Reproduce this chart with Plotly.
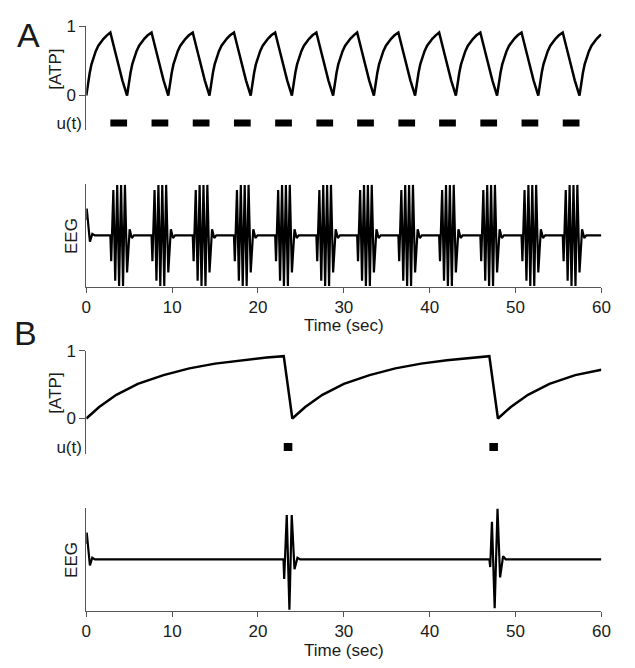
import plotly.graph_objects as go

# Page is 635x668; the figure is drawn at 619x652 so that it fits inside the
# default 8px body margin without any scrolling.
PAGE_MARGIN = 8
W, H = 635 - 2 * PAGE_MARGIN, 668 - 2 * PAGE_MARGIN

# ---------------- data ----------------
time_ticks = [0, 10, 20, 30, 40, 50, 60]
t_end = 60.0

# Panel A: ATP sawtooth, stimulus bars, EEG bursts
atp_a_peaks = [2.8, 7.6, 12.4, 17.2, 22.0, 26.8, 31.55, 36.35, 41.1, 45.9, 50.7, 55.5]
atp_a_mins = [4.75, 9.55, 14.35, 19.15, 23.95, 28.75, 33.5, 38.3, 43.05, 47.85, 52.65, 57.45]
atp_a_rise_dt = [0, 0.1, 0.25, 0.4, 0.6, 0.8, 1.1, 1.4, 1.7, 2.0, 2.4]
atp_a_rise_val = [0, 0.1, 0.22, 0.33, 0.45, 0.54, 0.64, 0.72, 0.78, 0.82, 0.87]
atp_a_peak_val = 0.91
atp_a_fall_dt = [0.65, 1.4]
atp_a_fall_val = [0.59, 0.22]
atp_a_end_val = 0.88

eeg_onset_t = [0, 0.05, 0.42, 0.7, 1.0]
eeg_onset_v = [0.3, 0.52, -0.12, 0.03, 0.0]
eeg_a_burst_starts = atp_a_peaks
eeg_a_burst_dt = [0, 0.1, 0.35, 0.57, 0.8, 1.02, 1.25, 1.48, 1.7, 1.95, 2.25, 2.5, 2.75]
eeg_a_burst_val = [0, -0.5, 0.88, -0.88, 0.98, -0.98, 0.98, -0.98, 0.98, -0.72, 0.12, -0.05, 0]

# Panel B: slow ATP recovery, two stimuli, two short EEG bursts
atp_b_peaks = [23.0, 46.95]
atp_b_mins = [24.0, 47.95]
atp_b_rise_dt = [0, 1.5, 3.5, 6, 9, 12, 15, 18, 21]
atp_b_rise_val = [0, 0.17, 0.35, 0.51, 0.64, 0.74, 0.81, 0.86, 0.9]
atp_b_peak_val = 0.92
atp_b_end_val = 0.72

eeg_b_burst1_t = [22.97, 23.05, 23.35, 23.66, 23.93, 24.25, 24.6, 24.9]
eeg_b_burst1_v = [0, -0.38, 0.86, -0.98, 0.86, -0.19, 0.03, 0]
eeg_b_burst2_t = [46.95, 47.05, 47.25, 47.57, 47.9, 48.2, 48.55, 48.85]
eeg_b_burst2_v = [0, -0.15, 0.73, -0.95, 0.98, -0.35, 0.06, 0]


# ---------------- series assembly ----------------
def build_atp(peaks, mins, rise_dt, rise_val, peak_val, fall_dt, fall_val, end_val):
    t, v = [], []
    start = 0.0
    for p, m in zip(peaks, mins):
        for dt, val in zip(rise_dt, rise_val):
            if start + dt < p - 0.05:
                t.append(start + dt)
                v.append(val)
        t.append(p)
        v.append(peak_val)
        for dt, val in zip(fall_dt, fall_val):
            t.append(p + dt)
            v.append(val)
        t.append(m)
        v.append(0.0)
        start = m
    for dt, val in zip(rise_dt, rise_val):
        if start + dt < t_end - 0.05:
            t.append(start + dt)
            v.append(val)
    t.append(t_end)
    v.append(end_val)
    return t, v


def build_bars(peaks, mins):
    x, y = [], []
    for p, m in zip(peaks, mins):
        x += [p, m, None]
        y += [1, 1, None]
    return x, y


atp_a_t, atp_a_v = build_atp(atp_a_peaks, atp_a_mins, atp_a_rise_dt, atp_a_rise_val,
                             atp_a_peak_val, atp_a_fall_dt, atp_a_fall_val, atp_a_end_val)
atp_b_t, atp_b_v = build_atp(atp_b_peaks, atp_b_mins, atp_b_rise_dt, atp_b_rise_val,
                             atp_b_peak_val, [], [], atp_b_end_val)
u_a_x, u_a_y = build_bars(atp_a_peaks, atp_a_mins)
u_b_x, u_b_y = build_bars(atp_b_peaks, atp_b_mins)

eeg_a_t = list(eeg_onset_t)
eeg_a_v = list(eeg_onset_v)
for s in eeg_a_burst_starts:
    eeg_a_t += [s + d for d in eeg_a_burst_dt]
    eeg_a_v += eeg_a_burst_val
eeg_a_t.append(t_end)
eeg_a_v.append(0)

eeg_b_t = list(eeg_onset_t) + eeg_b_burst1_t + eeg_b_burst2_t + [t_end]
eeg_b_v = list(eeg_onset_v) + eeg_b_burst1_v + eeg_b_burst2_v + [0]

# ---------------- figure ----------------
FONT = "Liberation Sans, Arial, sans-serif"
TXT = "#1a1a1a"
AX = "#555555"
LINE = "#000000"


# page-pixel -> paper coordinates
def px(x):
    return (x - PAGE_MARGIN) / W


def py(y):
    return 1 - (y - PAGE_MARGIN) / H


def ydom(top_px, bot_px):
    return [py(bot_px), py(top_px)]


xdom = [px(83), px(610)]

fig = go.Figure()
fig.add_trace(go.Scatter(x=atp_a_t, y=atp_a_v, xaxis="x", yaxis="y", mode="lines",
                         line=dict(color=LINE, width=2.5)))
fig.add_trace(go.Scatter(x=u_a_x, y=u_a_y, xaxis="x", yaxis="y2", mode="lines",
                         line=dict(color=LINE, width=7)))
fig.add_trace(go.Scatter(x=eeg_a_t, y=eeg_a_v, xaxis="x", yaxis="y3", mode="lines",
                         line=dict(color=LINE, width=2.2)))
fig.add_trace(go.Scatter(x=atp_b_t, y=atp_b_v, xaxis="x2", yaxis="y4", mode="lines",
                         line=dict(color=LINE, width=2.5)))
fig.add_trace(go.Scatter(x=u_b_x, y=u_b_y, xaxis="x2", yaxis="y5", mode="lines",
                         line=dict(color=LINE, width=8)))
fig.add_trace(go.Scatter(x=eeg_b_t, y=eeg_b_v, xaxis="x2", yaxis="y6", mode="lines",
                         line=dict(color=LINE, width=2.2)))

tickfont = dict(family=FONT, size=17, color=TXT)
xcommon = dict(domain=xdom, range=[0, 60], showline=True, linecolor=AX, linewidth=1,
               ticks="outside", ticklen=5, tickcolor=AX, tickvals=time_ticks,
               showgrid=False, zeroline=False, tickfont=tickfont)
ycommon = dict(showline=True, linecolor=AX, linewidth=1, showgrid=False,
               zeroline=False, tickfont=tickfont)


def atp_axis(top1, zero, bottom):
    per = (zero - top1)
    return dict(domain=ydom(top1, bottom), range=[-(bottom - zero) / per, 1],
                tickvals=[0, 1], ticks="outside", ticklen=6, tickcolor=AX)


def u_axis(top, center, bottom, size):
    hgt = bottom - top
    return dict(domain=ydom(top, bottom), range=[0, hgt / (bottom - center)],
                tickvals=[1], ticktext=["u(t)"], ticks="", ticklen=0,
                tickfont=dict(family=FONT, size=size, color=TXT))


def eeg_axis(top, bottom):
    return dict(domain=ydom(top, bottom), range=[-1, 1], showticklabels=False, ticks="")


layout = dict(
    width=W, height=H, margin=dict(l=0, r=0, t=0, b=0),
    paper_bgcolor="white", plot_bgcolor="white", showlegend=False,
    xaxis=dict(xcommon, anchor="y3"),
    xaxis2=dict(xcommon, anchor="y6"),
)
ya = [atp_axis(17.5, 88, 100), u_axis(100, 116, 123, 17), eeg_axis(178, 283),
      atp_axis(348, 417, 430), u_axis(430, 446, 453, 17), eeg_axis(508, 613)]
for i, d in enumerate(ya):
    name = "yaxis" if i == 0 else "yaxis%d" % (i + 1)
    base = dict(ycommon)
    base.update(d)
    base["anchor"] = "x" if i < 3 else "x2"
    layout[name] = base

fig.update_layout(**layout)

ann = []


def add_text(text, x, y, size, angle=0):
    ann.append(dict(text=text, x=px(x), y=py(y), xref="paper", yref="paper",
                    showarrow=False, xanchor="center", yanchor="middle", textangle=angle,
                    font=dict(family=FONT, size=size, color=TXT)))


add_text("A", 24, 26, 34)
add_text("B", 21, 330, 34)
add_text("[ATP]", 52, 61.7, 17, -90)
add_text("EEG", 68.5, 231, 17, -90)
add_text("[ATP]", 52, 391.7, 17, -90)
add_text("EEG", 68.5, 561, 17, -90)
add_text("Time (sec)", 346.5, 322.5, 17)
add_text("Time (sec)", 346.5, 653.5, 17)
fig.update_layout(annotations=ann)

fig.write_html("out.html", config={"displayModeBar": False})
